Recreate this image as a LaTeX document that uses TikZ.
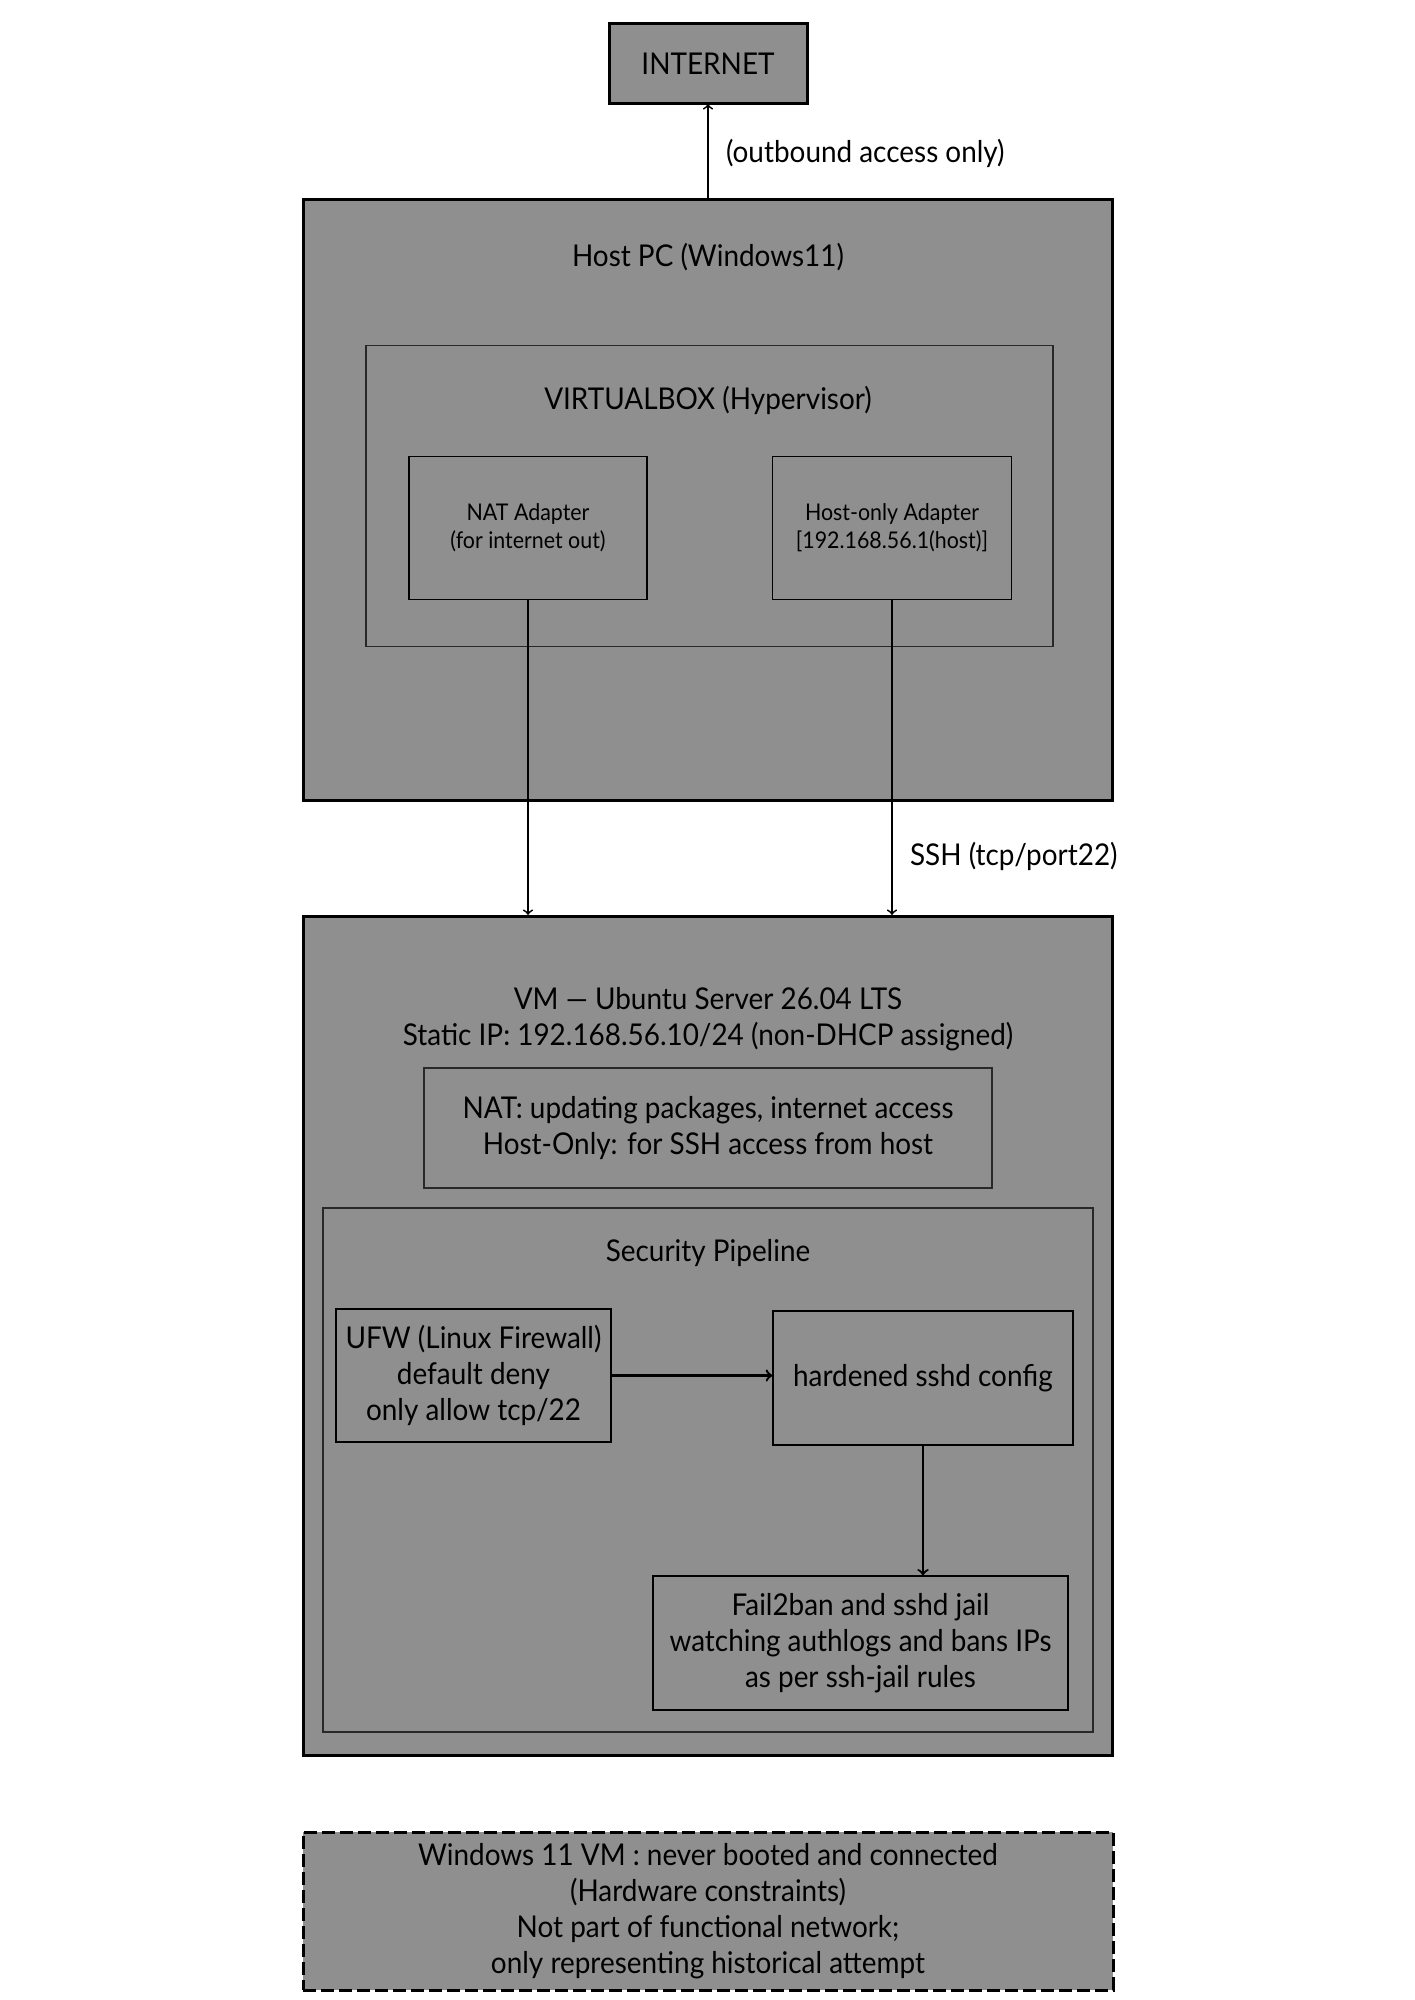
\documentclass[tikz,border=0pt]{standalone}
\usepackage{fontspec}
\setmainfont{Lato}[FakeStretch=0.93]
\begin{document}
\begin{tikzpicture}[x=1pt,y=-1pt,
  bigbox/.style={draw=black,line width=1.5pt,fill=fillColor,inner sep=0pt},
  thinbox/.style={draw=frameColor,line width=0.6pt,fill=fillColor,inner sep=2pt,align=center,font=\fontsize{15}{18}\selectfont},
  smallbox/.style={draw=black,line width=0.6pt,fill=fillColor,inner sep=2pt,align=center,font=\fontsize{11.5}{14}\selectfont},
  label/.style={inner sep=0pt,outer sep=0pt,align=center,font=\fontsize{15}{18}\selectfont},
  link/.style={draw=black,line width=0.9pt,->}]
\definecolor{fillColor}{RGB}{143,143,143}
\definecolor{frameColor}{RGB}{40,40,40}
\path[use as bounding box,fill=white] (0,0) rectangle (707,1000);

% internet
\node[bigbox,label,minimum width=99pt,minimum height=40pt] (internet) at (354,32) {INTERNET};
\node[label,anchor=west] (outlbl) at (363,76.5) {(outbound access only)};

% host pc
\node[bigbox,minimum width=404.5pt,minimum height=300pt] (hostpc) at (353.75,250) {};
\node[label] (hosttitle) at (354,128.5) {Host PC (Windows11)};
\node[thinbox,minimum width=343.5pt,minimum height=150.5pt] (vbox) at (354.75,248) {};
\node[label] (vboxtitle) at (354,200) {VIRTUALBOX (Hypervisor)};
\node[smallbox,minimum width=119pt,minimum height=71.5pt] (natad) at (264,264) {NAT Adapter\\(for internet out)};
\node[smallbox,minimum width=119.5pt,minimum height=71.5pt] (hostad) at (446,264) {Host-only Adapter\\{[192.168.56.1(host)]}};

% vm
\node[bigbox,minimum width=404.5pt,minimum height=419.5pt] (vm) at (353.75,668) {};
\node[label] (vmtitle) at (354,509.5) {VM --- Ubuntu Server 26.04 LTS\\Static IP: 192.168.56.10/24 (non-DHCP assigned)};
\node[thinbox,minimum width=284pt,minimum height=60pt] (nics) at (354,564) {NAT: updating packages, internet access\\Host-Only: for SSH access from host};
\node[thinbox,minimum width=385pt,minimum height=262pt] (pipe) at (354,735) {};
\node[label] (pipetitle) at (354,626.5) {Security Pipeline};
\node[thinbox,draw=black,minimum width=137.5pt,minimum height=66.5pt] (ufw) at (236.75,687.75) {UFW (Linux Firewall)\\default deny\\only allow tcp/22};
\node[thinbox,draw=black,minimum width=150pt,minimum height=67pt] (sshd) at (461.5,689) {hardened sshd config};
\node[thinbox,draw=black,minimum width=207.5pt,minimum height=67pt] (ban) at (430.25,821.5) {Fail2ban and sshd jail\\watching authlogs and bans IPs\\as per ssh-jail rules};

% windows vm
\node[bigbox,label,dash pattern=on 6.5pt off 2.5pt,minimum width=405pt,minimum height=79pt] (winvm) at (354,955.5) {Windows 11 VM : never booted and connected\\(Hardware constraints)\\Not part of functional network;\\only representing historical attempt};

% links
\draw[link] (hostpc.north -| internet.south) -- (internet.south);
\draw[link] (natad.south) -- (natad.south |- vm.north);
\draw[link] (hostad.south) -- (hostad.south |- vm.north);
\node[label,anchor=west] (sshlbl) at (455,428) {SSH (tcp/port22)};
\draw[link,line width=1.2pt] (ufw.east) -- (ufw.east -| sshd.west);
\draw[link,line width=1.1pt] (sshd.south) -- (sshd.south |- ban.north);
\end{tikzpicture}
\end{document}
